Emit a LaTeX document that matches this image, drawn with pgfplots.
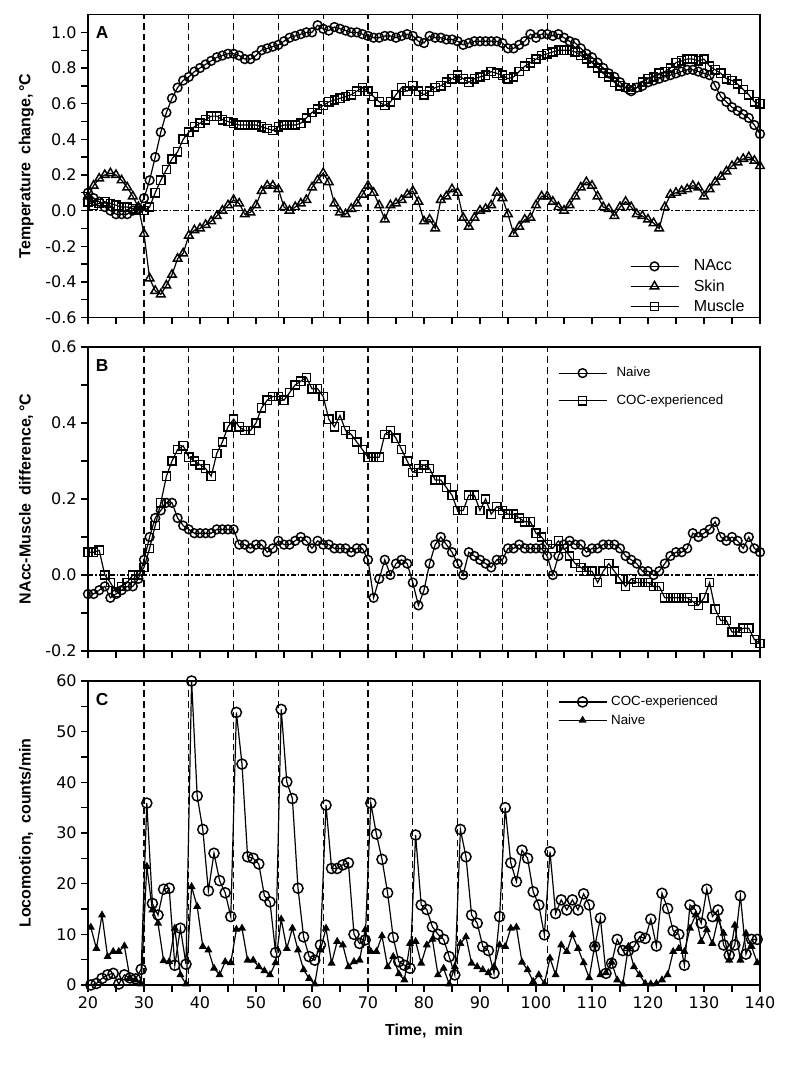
\documentclass[border=0pt]{standalone}
\usepackage{fontspec}
\setmainfont{Liberation Sans}
\newfontfamily\tickfont{DejaVu Sans}
\usepackage{pgfplots}
\pgfplotsset{compat=1.18}
\usepackage{pgfplotstable}

% Panel A: temperature change (deg C)
\pgfplotstableread{
t nacc skin muscle
20 0.10 0.08 0.05
21 0.07 0.14 0.03
22 0.05 0.18 0.04
23 0.02 0.20 0.05
24 0.00 0.21 0.04
25 -0.02 0.20 0.03
26 -0.02 0.17 0.02
27 -0.02 0.13 0.02
28 0.00 0.08 0.01
29 0.01 0.02 0.00
30 0.07 -0.13 0.00
31 0.17 -0.38 0.02
32 0.30 -0.45 0.10
33 0.44 -0.47 0.17
34 0.55 -0.42 0.23
35 0.63 -0.36 0.29
36 0.69 -0.27 0.33
37 0.73 -0.24 0.40
38 0.75 -0.14 0.44
39 0.78 -0.11 0.47
40 0.80 -0.10 0.49
41 0.82 -0.08 0.51
42 0.84 -0.06 0.53
43 0.86 -0.03 0.53
44 0.87 0.00 0.51
45 0.88 0.03 0.50
46 0.88 0.06 0.49
47 0.87 0.04 0.48
48 0.85 -0.02 0.48
49 0.85 -0.01 0.48
50 0.87 0.03 0.48
51 0.90 0.11 0.47
52 0.91 0.14 0.46
53 0.92 0.14 0.45
54 0.93 0.12 0.47
55 0.95 0.02 0.48
56 0.97 0.00 0.48
57 0.98 0.02 0.48
58 0.99 0.04 0.49
59 1.00 0.06 0.52
60 1.00 0.13 0.55
61 1.04 0.17 0.57
62 1.02 0.21 0.59
63 1.01 0.16 0.61
64 1.03 0.04 0.62
65 1.02 -0.01 0.63
66 1.01 -0.02 0.64
67 1.00 0.01 0.65
68 1.00 0.04 0.67
69 0.99 0.09 0.69
70 0.98 0.14 0.67
71 0.97 0.10 0.64
72 0.97 0.03 0.61
73 0.98 -0.05 0.59
74 0.98 0.03 0.61
75 0.97 0.04 0.65
76 0.98 0.06 0.69
77 0.99 0.09 0.67
78 0.98 0.11 0.70
79 0.95 0.05 0.67
80 0.94 -0.06 0.65
81 0.98 -0.05 0.67
82 0.97 -0.10 0.69
83 0.97 0.06 0.70
84 0.96 0.08 0.72
85 0.96 0.12 0.74
86 0.95 0.10 0.76
87 0.93 -0.04 0.74
88 0.94 -0.09 0.72
89 0.95 -0.04 0.74
90 0.95 0.00 0.75
91 0.95 0.01 0.76
92 0.95 0.03 0.78
93 0.95 0.10 0.77
94 0.94 0.07 0.76
95 0.91 -0.02 0.74
96 0.91 -0.13 0.75
97 0.93 -0.09 0.78
98 0.95 -0.05 0.81
99 0.99 -0.04 0.83
100 0.97 0.03 0.85
101 0.99 0.08 0.87
102 0.99 0.08 0.88
103 0.98 0.05 0.89
104 0.99 0.02 0.90
105 0.97 0.00 0.90
106 0.95 0.03 0.90
107 0.94 0.08 0.89
108 0.91 0.13 0.87
109 0.88 0.16 0.85
110 0.86 0.14 0.83
111 0.83 0.08 0.80
112 0.80 0.02 0.77
113 0.77 0.01 0.75
114 0.75 -0.03 0.72
115 0.72 0.02 0.70
116 0.69 0.05 0.69
117 0.67 0.02 0.68
118 0.69 -0.02 0.69
119 0.70 -0.03 0.72
120 0.72 -0.05 0.74
121 0.73 -0.07 0.75
122 0.74 -0.10 0.77
123 0.75 0.02 0.78
124 0.76 0.09 0.80
125 0.77 0.10 0.83
126 0.78 0.11 0.84
127 0.79 0.12 0.85
128 0.79 0.14 0.85
129 0.78 0.13 0.84
130 0.77 0.08 0.85
131 0.76 0.12 0.81
132 0.70 0.16 0.79
133 0.64 0.19 0.77
134 0.61 0.22 0.74
135 0.58 0.25 0.73
136 0.56 0.27 0.71
137 0.54 0.29 0.68
138 0.52 0.30 0.65
139 0.48 0.28 0.61
140 0.43 0.25 0.60
}\tabA

% Panel B: NAcc-Muscle difference (deg C)
\pgfplotstableread{
t naive coc
20 -0.05 0.06
21 -0.05 0.06
22 -0.04 0.065
23 -0.03 0.00
24 -0.06 -0.02
25 -0.05 -0.045
26 -0.04 -0.03
27 -0.03 -0.02
28 -0.03 0.00
29 -0.01 0.00
30 0.04 0.02
31 0.10 0.07
32 0.15 0.13
33 0.17 0.19
34 0.19 0.26
35 0.19 0.30
36 0.15 0.33
37 0.13 0.34
38 0.12 0.31
39 0.11 0.30
40 0.11 0.29
41 0.11 0.28
42 0.11 0.26
43 0.12 0.32
44 0.12 0.35
45 0.12 0.39
46 0.12 0.41
47 0.08 0.39
48 0.08 0.38
49 0.07 0.38
50 0.08 0.40
51 0.08 0.44
52 0.06 0.46
53 0.07 0.47
54 0.09 0.47
55 0.08 0.46
56 0.08 0.48
57 0.09 0.50
58 0.10 0.51
59 0.09 0.52
60 0.07 0.49
61 0.09 0.49
62 0.08 0.47
63 0.08 0.41
64 0.07 0.39
65 0.07 0.42
66 0.07 0.38
67 0.06 0.37
68 0.07 0.35
69 0.07 0.33
70 0.04 0.31
71 -0.06 0.31
72 -0.01 0.31
73 0.04 0.37
74 0.00 0.38
75 0.03 0.36
76 0.04 0.33
77 0.03 0.30
78 -0.02 0.27
79 -0.08 0.28
80 -0.04 0.29
81 0.03 0.28
82 0.08 0.25
83 0.10 0.25
84 0.08 0.23
85 0.06 0.21
86 0.03 0.17
87 0.00 0.17
88 0.06 0.21
89 0.05 0.21
90 0.04 0.17
91 0.03 0.20
92 0.02 0.16
93 0.04 0.18
94 0.04 0.17
95 0.07 0.16
96 0.07 0.16
97 0.08 0.15
98 0.07 0.14
99 0.07 0.14
100 0.07 0.11
101 0.07 0.10
102 0.05 0.08
103 0.00 0.07
104 0.05 0.09
105 0.08 0.07
106 0.09 0.05
107 0.08 0.03
108 0.08 0.02
109 0.06 0.01
110 0.07 0.01
111 0.07 -0.02
112 0.08 0.01
113 0.08 0.03
114 0.08 0.01
115 0.07 -0.01
116 0.05 -0.03
117 0.04 -0.01
118 0.03 -0.02
119 0.01 -0.02
120 0.01 -0.02
121 0.00 -0.03
122 0.01 -0.03
123 0.03 -0.06
124 0.05 -0.06
125 0.06 -0.06
126 0.06 -0.06
127 0.07 -0.06
128 0.11 -0.07
129 0.10 -0.08
130 0.11 -0.06
131 0.12 -0.02
132 0.14 -0.09
133 0.10 -0.12
134 0.09 -0.12
135 0.10 -0.15
136 0.09 -0.15
137 0.07 -0.14
138 0.10 -0.14
139 0.07 -0.17
140 0.06 -0.18
}\tabB

% Panel C: locomotion (counts/min)
\pgfplotstableread{
t coc naive
20.5 0.0 11.4
21.5 0.3 7.2
22.5 1.3 13.8
23.5 2.0 5.6
24.5 2.3 6.6
25.5 0.2 6.6
26.5 2.0 7.7
27.5 1.4 1.3
28.5 1.2 1.0
29.5 3.1 0.2
30.5 35.9 23.4
31.5 16.1 14.8
32.5 13.8 12.2
33.5 18.9 4.8
34.5 19.1 4.6
35.5 3.9 11.2
36.5 11.2 2.0
37.5 4.1 0.2
38.5 60.0 19.4
39.5 37.3 15.5
40.5 30.7 7.6
41.5 18.6 6.9
42.5 26.0 3.3
43.5 20.6 2.0
44.5 18.2 4.6
45.5 13.5 4.4
46.5 53.8 11.0
47.5 43.6 11.2
48.5 25.3 4.9
49.5 25.0 4.9
50.5 23.9 3.6
51.5 17.6 2.8
52.5 16.4 2.0
53.5 6.4 4.4
54.5 54.4 13.0
55.5 40.1 7.2
56.5 36.8 11.2
57.5 19.1 6.9
58.5 9.5 3.0
59.5 5.6 1.3
60.5 4.9 0.2
61.5 7.9 6.9
62.5 35.5 11.2
63.5 23.0 4.3
64.5 23.0 8.6
65.5 23.7 7.9
66.5 24.1 3.6
67.5 10.0 4.6
68.5 8.2 4.9
69.5 8.9 10.9
70.5 35.9 6.6
71.5 29.8 6.6
72.5 24.8 9.7
73.5 18.2 3.6
74.5 9.4 5.6
75.5 4.6 2.2
76.5 3.9 1.0
77.5 3.3 8.2
78.5 29.6 8.6
79.5 15.8 4.3
80.5 14.9 7.9
81.5 11.5 9.0
82.5 10.0 2.0
83.5 9.0 3.3
84.5 5.6 0.2
85.5 2.0 3.6
86.5 30.7 8.2
87.5 25.3 9.5
88.5 13.8 4.3
89.5 12.2 3.6
90.5 7.6 3.0
91.5 6.8 2.4
92.5 2.3 3.6
93.5 13.5 7.9
94.5 35.0 7.6
95.5 24.1 11.2
96.5 20.4 11.4
97.5 26.6 4.5
98.5 25.0 3.0
99.5 18.4 0.7
100.5 15.8 2.0
101.5 9.9 0.3
102.5 26.3 5.3
103.5 14.1 2.0
104.5 16.8 7.9
105.5 14.8 6.6
106.5 16.8 9.9
107.5 14.8 7.2
108.5 18.0 4.4
109.5 15.8 1.4
110.5 7.6 7.9
111.5 13.2 2.0
112.5 2.3 2.4
113.5 4.3 4.5
114.5 9.0 1.0
115.5 6.8 0.2
116.5 6.8 7.6
117.5 7.6 3.6
118.5 9.5 2.0
119.5 9.2 0.3
120.5 13.0 0.2
121.5 7.7 0.3
122.5 18.1 1.0
123.5 15.1 2.0
124.5 10.7 6.6
125.5 10.0 7.2
126.5 3.9 6.6
127.5 15.8 11.2
128.5 14.8 13.8
129.5 12.2 8.6
130.5 18.9 10.9
131.5 13.5 8.2
132.5 14.8 13.0
133.5 7.9 10.2
134.5 5.9 4.9
135.5 7.9 11.8
136.5 17.6 4.9
137.5 6.1 10.2
138.5 9.0 7.6
139.5 9.0 4.4
}\tabC

\tikzset{
  vline/.style={black, line width=1pt, dash pattern=on 5pt off 3pt},
  zline/.style={black, line width=0.8pt, dash pattern=on 4pt off 1.5pt on 1pt off 1.5pt},
}
\pgfplotsset{
  panel/.style={
    scale only axis, width=504pt,
    xmin=20, xmax=140,
    axis line style={line width=1.2pt},
    tick align=outside, xtick pos=bottom, ytick pos=left,
    xtick={20,30,...,140}, minor xtick={25,35,...,135},
    major tick length=5pt, minor tick length=5pt,
    every tick/.style={line width=1pt, black},
    every minor tick/.style={line width=1pt, black},
    tick label style={font=\tickfont\fontsize{12}{13}\selectfont},
    ylabel style={font=\bfseries\fontsize{12}{14}\selectfont,
                  at={(axis description cs:-0.092,0.5)}, anchor=center},
    legend cell align=left,
    legend style={draw=none, fill=none, font=\fontsize{10}{12}\selectfont,
                  inner xsep=0pt, inner ysep=0pt},
    legend image code/.code={%
      \draw[mark repeat=2,mark phase=2,##1] plot coordinates {(0pt,0pt) (18pt,0pt) (36pt,0pt)};},
  },
  ser/.style={black, line width=0.9pt, mark options={solid, fill=white, line width=1.1pt}},
}

\begin{document}
\begin{tikzpicture}
\useasboundingbox (0,0) rectangle (597pt,-798.75pt);
% ---------------- Panel A ----------------
\begin{axis}[panel, at={(66pt,-10.9pt)}, anchor=north west, height=227.25pt,
  ymin=-0.6, ymax=1.1,
  ytick={-0.6,-0.4,...,1.0}, yticklabels={-0.6,-0.4,-0.2,0.0,0.2,0.4,0.6,0.8,1.0},
  minor ytick={-0.5,-0.3,...,0.9},
  xticklabels={},
  ylabel={Temperature\hspace{0.5em}change,\,°C},
  legend style={at={(rel axis cs:0.806,0.200)}, anchor=north west, row sep=1pt,
                font=\fontsize{12}{13}\selectfont,
                /tikz/every odd column/.append style={column sep=9pt}},
]
\pgfplotsinvokeforeach{30,38,46,54,62,70,78,86,94,102}{\draw[vline] (axis cs:#1,-0.6) -- (axis cs:#1,1.1);}
\draw[zline] (axis cs:20,0) -- (axis cs:140,0);
\addplot[ser, mark=o, mark size=3.3pt] table[x=t, y=nacc] {\tabA};
\addplot[ser, mark=triangle, mark size=3.7pt] table[x=t, y=skin] {\tabA};
\addplot[ser, mark=square, mark size=3.1pt] table[x=t, y=muscle] {\tabA};
\legend{NAcc, Skin, Muscle}
\node[font=\bfseries\fontsize{13}{15}\selectfont] at (rel axis cs:0.021,0.94) {A};
\end{axis}
% ---------------- Panel B ----------------
\begin{axis}[panel, at={(66pt,-260.25pt)}, anchor=north west, height=228pt,
  ymin=-0.2, ymax=0.6,
  ytick={-0.2,0,...,0.6}, yticklabels={-0.2,0.0,0.2,0.4,0.6},
  minor ytick={-0.1,0.1,0.3,0.5},
  xticklabels={},
  ylabel={NAcc-Muscle\hspace{0.5em}difference,\,°C},
  legend style={at={(rel axis cs:0.699,0.943)}, anchor=north west, row sep=8pt,
                /tikz/every odd column/.append style={column sep=5pt}},
]
\pgfplotsinvokeforeach{30,38,46,54,62,70,78,86,94,102}{\draw[vline] (axis cs:#1,-0.2) -- (axis cs:#1,0.6);}
\draw[zline] (axis cs:20,0) -- (axis cs:140,0);
\addplot[ser, mark=o, mark size=3.3pt] table[x=t, y=naive] {\tabB};
\addplot[ser, mark=square, mark size=3.1pt] table[x=t, y=coc] {\tabB};
\legend{Naive, COC-experienced}
\node[font=\bfseries\fontsize{13}{15}\selectfont] at (rel axis cs:0.021,0.94) {B};
\end{axis}
% ---------------- Panel C ----------------
\begin{axis}[panel, at={(66pt,-510.75pt)}, anchor=north west, height=228pt,
  ymin=0, ymax=60,
  ytick={0,10,...,60}, yticklabels={0,10,20,30,40,50,60},
  minor ytick={5,15,...,55},
  xticklabels={20,30,40,50,60,70,80,90,100,110,120,130,140},
  ylabel={Locomotion,\hspace{0.5em}counts/min},
  xlabel={Time,\hspace{0.5em}min},
  xlabel style={font=\bfseries\fontsize{12}{14}\selectfont,
                at={(axis description cs:0.5,-0.15)}, anchor=center},
  legend style={at={(rel axis cs:0.699,0.96)}, anchor=north west, row sep=1pt,
                /tikz/every odd column/.append style={column sep=1pt}},
]
\pgfplotsinvokeforeach{30,38,46,54,62,70,78,86,94,102}{\draw[vline] (axis cs:#1,0) -- (axis cs:#1,60);}
\addplot[ser, mark=o, mark size=3.8pt] table[x=t, y=coc] {\tabC};
\addplot[black, line width=0.9pt, mark=triangle*, mark size=2.6pt, mark options={solid}] table[x=t, y=naive] {\tabC};
\legend{COC-experienced, Naive}
\node[font=\bfseries\fontsize{13}{15}\selectfont] at (rel axis cs:0.021,0.94) {C};
\end{axis}
\end{tikzpicture}
\end{document}
